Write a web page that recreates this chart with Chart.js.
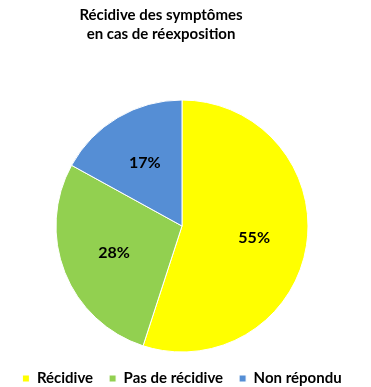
<!DOCTYPE html>
<html>
<head>
<meta charset="utf-8">
<script src="https://cdn.jsdelivr.net/npm/chart.js@4"></script>
<style>
  html, body { margin: 0; padding: 0; background: #fff; }
  #wrap { width: 371px; height: 387px; }
</style>
</head>
<body>
<div id="wrap"><canvas id="pie"></canvas></div>
<script>
const titleLines = ["Récidive des symptômes", "en cas de réexposition"];
const categories = ["Récidive", "Pas de récidive", "Non répondu"];
const percents = [55, 28, 17];
const sliceColors = ["#FFFF00", "#92D050", "#558ED5"];

const FONT = "Lato, 'Open Sans', sans-serif";

// two-line heading, centred a little left of the pie like the original sheet
const headingPlugin = {
  id: "heading",
  afterDraw(chart) {
    const ctx = chart.ctx;
    ctx.save();
    ctx.font = "bold 15px " + FONT;
    ctx.fillStyle = "#000";
    ctx.textAlign = "center";
    ctx.textBaseline = "alphabetic";
    titleLines.forEach((t, i) => ctx.fillText(t, 161, 20 + i * 19));
    ctx.restore();
  },
};

// percentage text inside each slice
const sliceLabels = {
  id: "sliceLabels",
  afterDatasetsDraw(chart) {
    const ctx = chart.ctx;
    const meta = chart.getDatasetMeta(0);
    ctx.save();
    ctx.font = "bold 16px " + FONT;
    ctx.fillStyle = "#000";
    ctx.textAlign = "center";
    ctx.textBaseline = "middle";
    meta.data.forEach((arc, i) => {
      const p = arc.getProps(["x", "y", "startAngle", "endAngle", "outerRadius"], true);
      const mid = (p.startAngle + p.endAngle) / 2;
      const r = p.outerRadius * 0.58;
      ctx.fillText(percents[i] + "%", p.x + Math.cos(mid) * r, p.y + Math.sin(mid) * r);
    });
    ctx.restore();
  },
};

new Chart(document.getElementById("pie"), {
  type: "pie",
  data: {
    labels: categories,
    datasets: [{
      data: percents,
      backgroundColor: sliceColors,
      borderColor: "#fff",
      borderWidth: 1,
      radius: 126,
    }],
  },
  options: {
    responsive: true, maintainAspectRatio: false, animation: false,
    layout: { padding: { top: 97, bottom: -9, left: 0, right: 7 } },
    plugins: {
      title: { display: false },
      tooltip: { enabled: false },
      legend: {
        position: "bottom",
        labels: {
          color: "#000",
          font: { family: FONT, size: 15, weight: "bold" },
          boxWidth: 7, boxHeight: 7,
          padding: 16,
        },
      },
    },
  },
  plugins: [headingPlugin, sliceLabels],
});
</script>
</body>
</html>
